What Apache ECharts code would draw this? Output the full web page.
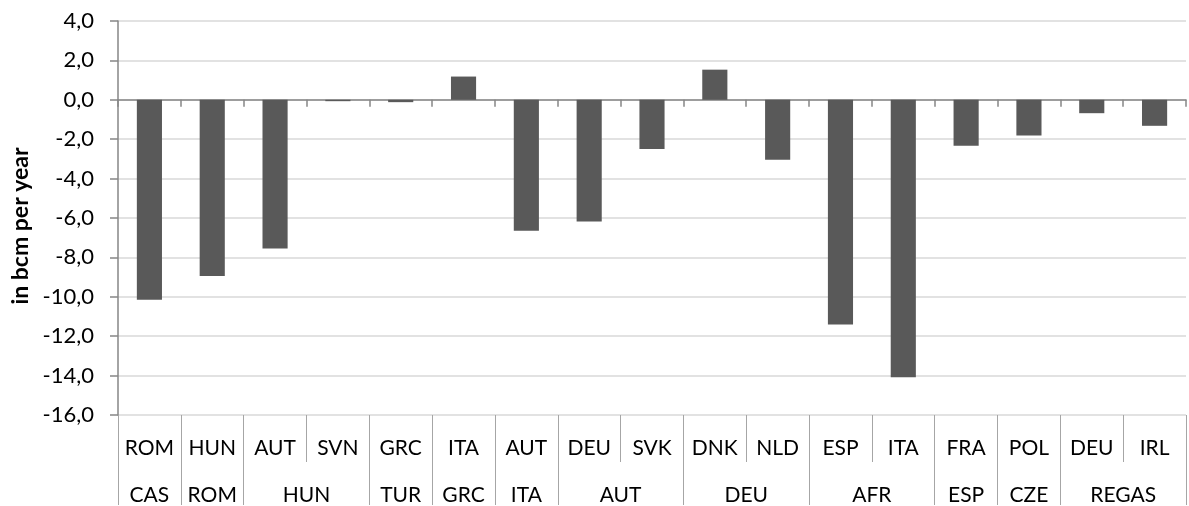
<!DOCTYPE html>
<html>
<head>
<meta charset="utf-8">
<script src="https://cdn.jsdelivr.net/npm/echarts@6/dist/echarts.min.js"></script>
<style>html,body{margin:0;padding:0;background:#fff;}#c{width:1189px;height:506px;}</style>
</head>
<body>
<div id="c"></div>
<script>
// Level-1 categories (destination) and values in bcm per year
var categories = ['ROM','HUN','AUT','SVN','GRC','ITA','AUT','DEU','SVK','DNK','NLD','ESP','ITA','FRA','POL','DEU','IRL'];
var values = [-10.15, -8.95, -7.55, -0.07, -0.12, 1.18, -6.65, -6.18, -2.5, 1.53, -3.04, -11.4, -14.08, -2.33, -1.81, -0.68, -1.32];
// Level-2 groups (source) and how many categories each spans
var groupNames = ['CAS','ROM','HUN','TUR','GRC','ITA','AUT','DEU','AFR','ESP','CZE','REGAS'];
var groupSizes = [1,1,2,1,1,1,2,2,2,1,1,2];
// Y axis ticks
var yMin = -16, yMax = 4, yStep = 2;

var FONT = 'Lato, "Open Sans", sans-serif';
// Build half-step positions for group labels and boundaries
var nHalf = categories.length * 2 + 1;
var halfLabels = [];
for (var i = 0; i < nHalf; i++) halfLabels.push('');
var boundaries = {};
var pos = 0;
for (var g = 0; g < groupNames.length; g++) {
  boundaries[pos * 2] = true;
  halfLabels[pos * 2 + groupSizes[g]] = groupNames[g];
  pos += groupSizes[g];
}
boundaries[pos * 2] = true;

var chart = echarts.init(document.getElementById('c'));
chart.setOption({
  animation: false,
  backgroundColor: '#fff',
  grid: { left: 118, right: -2, top: 21, bottom: 90, containLabel: false },
  xAxis: [
    {
      type: 'category', data: categories, position: 'bottom',
      axisLine: { onZero: true, lineStyle: { color: '#868686', width: 1.5 } },
      axisTick: { show: true, length: 7, interval: 0, lineStyle: { color: '#868686', width: 1.5 } },
      axisLabel: { show: false }, splitLine: { show: false }
    },
    {
      type: 'category', data: categories, position: 'bottom',
      axisLine: { show: false, onZero: false },
      axisTick: { show: true, length: 47, interval: 0, lineStyle: { color: '#a6a6a6', width: 1 } },
      axisLabel: { show: true, interval: 0, margin: 23, fontFamily: FONT, fontSize: 21, color: '#000' },
      splitLine: { show: false }
    },
    {
      type: 'category', data: halfLabels.map(function (l, i) { return 'h' + i; }), position: 'bottom', boundaryGap: false,
      axisLine: { show: false, onZero: false },
      axisTick: { show: true, length: 90, interval: function (idx) { return !!boundaries[idx]; }, lineStyle: { color: '#a6a6a6', width: 1 } },
      axisLabel: { show: true, interval: 0, margin: 70, fontFamily: FONT, fontSize: 21, color: '#000',
        formatter: function (v) { return halfLabels[parseInt(v.slice(1), 10)]; } },
      splitLine: { show: false }
    }
  ],
  yAxis: {
    type: 'value', min: yMin, max: yMax, interval: yStep,
    name: 'in bcm per year', nameLocation: 'middle', nameGap: 80, nameRotate: 90,
    nameTextStyle: { fontFamily: FONT, fontSize: 23, fontWeight: 'bold', color: '#000', padding: [0, 16, 0, 0] },
    axisLine: { show: true, lineStyle: { color: '#868686', width: 1.5 } },
    axisTick: { show: true, length: 8, lineStyle: { color: '#868686', width: 1.5 } },
    axisLabel: { margin: 24, fontFamily: FONT, fontSize: 22, color: '#000',
      formatter: function (v) { return v.toFixed(1).replace('.', ','); } },
    splitLine: { show: true, lineStyle: { color: '#d9d9d9', width: 1.5 } }
  },
  series: [{
    type: 'bar', xAxisIndex: 0, data: values, barWidth: '40%',
    itemStyle: { color: '#595959' }
  }]
});
</script>
</body>
</html>
